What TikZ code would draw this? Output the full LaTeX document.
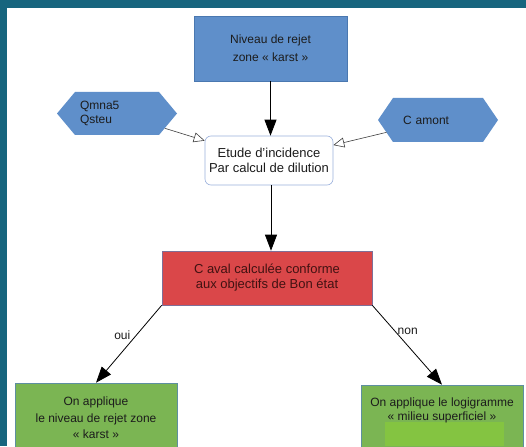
\documentclass[tikz,border=0pt]{standalone}
\usepackage{fontspec}
\setmainfont{Liberation Sans}
\usetikzlibrary{arrows.meta,calc}
\definecolor{frameteal}{HTML}{17657E}
\definecolor{blueF}{HTML}{5F8FCA}
\definecolor{blueD}{HTML}{4A78B0}
\definecolor{redF}{HTML}{DA4749}
\definecolor{redD}{HTML}{7E6F98}
\definecolor{greenF}{HTML}{7BB553}
\definecolor{greenD}{HTML}{5E8FA0}
\definecolor{patchG}{HTML}{84C441}
\definecolor{cbD}{HTML}{9AB0DC}
\definecolor{txt}{HTML}{1C1C1C}
\definecolor{redtxt}{HTML}{421212}
\pgfdeclarelayer{back}
\pgfdeclarelayer{hexlayer}
\pgfsetlayers{back,hexlayer,main}
\begin{document}
\begin{tikzpicture}[x=1pt,y=-1pt,
  box/.style={draw=#1, line width=0.6pt, inner sep=0pt, align=center, text=txt},
  f12/.style={font=\fontsize{12}{#1}\selectfont},
  f13/.style={font=\fontsize{13}{#1}\selectfont},
  hexa/.style={rectangle, inner sep=0pt, outer sep=0pt,
    minimum width=120pt, minimum height=43pt, align=left, text=txt},
  hexfill/.style={fill=blueF},
  solidarrow/.style={draw=black, line width=0.8pt, -{Triangle[length=16pt,width=12pt]}},
  openarrow/.style={draw=black!75, line width=0.6pt, -{Triangle[open,length=11pt,width=10pt]}},
  lbl/.style={font=\fontsize{12}{14}\selectfont, text=txt, inner sep=1pt}]
\useasboundingbox (0,0) rectangle (526,446);
\begin{pgfonlayer}{back}
\fill[frameteal] (0,0) rectangle (526,446);
\fill[white] (7,8) rectangle (526,446);
\end{pgfonlayer}

\node[box=blueD, fill=blueF, f12=18, minimum width=153pt, minimum height=65pt] (top) at (270.5,48.5)
  {Niveau de rejet\\zone « karst »};
\node[hexa, f12=14, text width=74pt] (hl) at (117,113.5) {Qmna5\\Qsteu};
\node[hexa, f12=14, text width=70pt, minimum height=44pt] (hr) at (438,120) {C amont};
\begin{pgfonlayer}{hexlayer}
\fill[hexfill] (hl.west) -- ([xshift=18pt]hl.north west) -- ([xshift=-18pt]hl.north east)
  -- (hl.east) -- ([xshift=-18pt]hl.south east) -- ([xshift=18pt]hl.south west) -- cycle;
\fill[hexfill] (hr.west) -- ([xshift=15pt]hr.north west) -- ([xshift=-15pt]hr.north east)
  -- (hr.east) -- ([xshift=-15pt]hr.south east) -- ([xshift=15pt]hr.south west) -- cycle;
\end{pgfonlayer}
\node[box=cbD, fill=white, rounded corners=6pt, f13=14.5, minimum width=128pt, minimum height=49pt] (cb) at (269,160.5)
  {Etude d'incidence\\Par calcul de dilution};
\node[box=redD, fill=redF, f13=15, text=redtxt, minimum width=210pt, minimum height=54pt] (red) at (267,278)
  {C aval calculée conforme\\aux objectifs de Bon état};
\node[box=greenD, fill=greenF, f12=16.5, minimum width=162pt, minimum height=70pt] (lg) at (96,418)
  {On applique\\le niveau de rejet zone\\« karst »};
\node[box=greenD, fill=greenF, minimum width=162pt, minimum height=70pt] (rg) at (442,420) {};
\fill[patchG] (385,422) rectangle (504,446);
\node[f12=14, align=center, text=txt, inner sep=0pt] (rgt) at (442,410)
  {On applique le logigramme\\« milieu superficiel »};

\draw[solidarrow] (top.south) -- (top.south |- cb.north);
\draw[openarrow] ($(hl.center)!50pt!(cb.center)$) -- (cb);
\draw[openarrow] ($(hr.center)!53pt!(cb.center)$) -- (cb);
\draw[solidarrow] ([xshift=2pt]cb.south) -- ([xshift=2pt]cb.south |- red.north);
\draw[solidarrow] (red.south west) -- node[lbl, pos=0.38, left=5pt] (oui) {oui} (lg.north);
\draw[solidarrow] (red.south east) -- node[lbl, pos=0.33, right=1pt] (non) {non} (rg.north);
\end{tikzpicture}
\end{document}
